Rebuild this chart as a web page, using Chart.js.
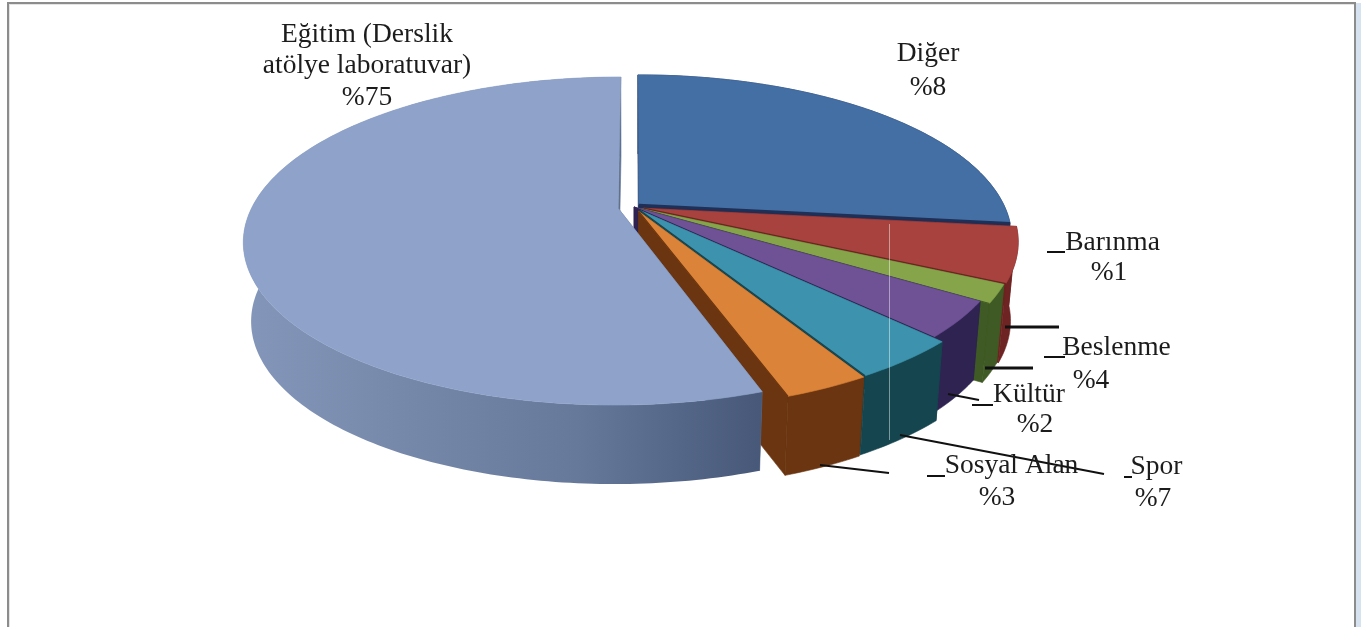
<!DOCTYPE html>
<html><head><meta charset="utf-8">
<style>html,body{margin:0;padding:0;background:#fff;overflow:hidden}
#wrap{position:relative;width:1370px;height:627px}
#frame{position:absolute;left:7px;top:2px;width:1345px;height:640px;border:2px solid #8c8c8c;box-shadow:inset 1px 1px 0 #e4e4e4}
#strip{position:absolute;left:1356px;top:3px;width:5px;height:624px;background:#d6e2f0}
canvas{position:absolute;left:0;top:0}
</style>
<script src="https://cdn.jsdelivr.net/npm/chart.js@4"></script></head>
<body><div id="wrap"><div id="frame"></div><div id="strip"></div><canvas id="c" width="1370" height="627"></canvas></div>
<script>
const categories=["Diğer","Barınma","Beslenme","Kültür","Spor","Sosyal Alan","Eğitim"];
const sliceShares=[26.8,5.4,1.8,3.6,4.0,3.1,55.3];
const labelPercents=["%8","%1","%4","%2","%7","%3","%75"];

const topColors=["#436FA4","#A8423F","#86A44A","#6F5196","#3D93AE","#DB8338","#8FA3CA"];
const wallColors=["#1f2f55","#6e2422","#3f5a24","#2f2352","#15454f","#6a3510","#5f7290"];
const explode=[0.018,0.028,0.024,0.0,0.027,0.03,0.045];

const PIE={cx:634,cy:207,rx:366,ry:157,k:0.2,depth:79,shrink:0.98};
const project=(u,v,low)=>{
  const w=1-PIE.k*v; let X=PIE.rx*u/w, Y=PIE.ry*v/w;
  if(low){X*=PIE.shrink;Y+=PIE.depth;}
  return [PIE.cx+X,PIE.cy+Y];
};
const poly=(ctx,pts,fill)=>{
  ctx.beginPath();pts.forEach((p,i)=>i?ctx.lineTo(p[0],p[1]):ctx.moveTo(p[0],p[1]));
  ctx.closePath();ctx.fillStyle=fill;ctx.fill();
  ctx.lineWidth=0.6;ctx.strokeStyle=typeof fill==='string'?fill:'transparent';ctx.stroke();
};

const pie3d={id:'pie3d',
  beforeDatasetDraw(chart,args){
    const ctx=chart.ctx, arcs=chart.getDatasetMeta(0).data;
    ctx.save();ctx.filter='blur(0.6px)';
    arcs.forEach((el,i)=>{
      const o=(el.options.offset||0)/el.outerRadius, s=el.startAngle, e=el.endAngle, m=(s+e)/2;
      const ou=Math.cos(m)*o, ov=Math.sin(m)*o;
      const n=Math.max(4,Math.ceil((e-s)*60));
      const rim=[];for(let j=0;j<=n;j++){const a=s+(e-s)*j/n;rim.push([ou+Math.cos(a),ov+Math.sin(a)]);}
      const top=rim.map(p=>project(p[0],p[1],false)), low=rim.map(p=>project(p[0],p[1],true));
      const aT=project(ou,ov,false), aL=project(ou,ov,true);
      const wall=el.options.borderColor;
      let wallFill=wall;
      if(i===arcs.length-1){
        const g=ctx.createLinearGradient(240,0,760,0);
        g.addColorStop(0,'#8497ba');g.addColorStop(0.3,'#7789ab');g.addColorStop(0.65,'#66799a');g.addColorStop(1,'#475879');
        wallFill=g;
      }
      poly(ctx,[aT,top[0],low[0],aL],wall);
      poly(ctx,[aT,top[n],low[n],aL],wall);
      poly(ctx,top.concat(low.slice().reverse()),wallFill);
      poly(ctx,[aT].concat(top),el.options.backgroundColor);
      if(i<arcs.length-1){
        ctx.beginPath();ctx.moveTo(aT[0],aT[1]);ctx.lineTo(top[n][0],top[n][1]);
        ctx.strokeStyle=wall;ctx.lineWidth=i===0?2.6:1.2;ctx.stroke();
      }
    });
    ctx.restore();
    return false;
  },
  afterDraw(chart){
    const ctx=chart.ctx;
    ctx.save();
    ctx.strokeStyle='rgba(255,255,255,0.45)';ctx.lineWidth=1;
    ctx.beginPath();ctx.moveTo(889.5,224);ctx.lineTo(889.5,440);ctx.stroke();
    const leaders=[[1005,327,1059,327,3],[985,368,1033,368,3],[948,394,979,400,2],[900,435,1104,474,2],[820,465,889,473,2],
      [1047,252,1065,252,2],[1044,357,1065,357,2],[972,405,993,405,2],[927,476,945,476,2],[1124,477,1132,477,2]];
    ctx.strokeStyle='#111';
    leaders.forEach(l=>{ctx.lineWidth=l[4];ctx.beginPath();ctx.moveTo(l[0],l[1]);ctx.lineTo(l[2],l[3]);ctx.stroke();});
    ctx.fillStyle='#1c1c1c';ctx.font='27.5px "Liberation Serif"';ctx.textBaseline='alphabetic';ctx.textAlign='center';
    const t=(s,x,y)=>ctx.fillText(s,x,y);
    t("Eğitim (Derslik",367,42);t("atölye laboratuvar)",367,73);t(labelPercents[6],367,105);
    t(categories[0],928,61);t(labelPercents[0],928,95);
    t(categories[1],1112.5,250);t(labelPercents[1],1109,280);
    t(categories[2],1116.5,355);t(labelPercents[2],1091,388);
    t(categories[3],1029,402);t(labelPercents[3],1035,432);
    t(categories[5],1011.5,473);t(labelPercents[5],997,505);
    t(categories[4],1156.5,474);t(labelPercents[4],1153,506);
    ctx.restore();
  }
};
new Chart(document.getElementById('c'),{
  type:'pie',
  data:{labels:categories,datasets:[{data:sliceShares,backgroundColor:topColors,borderColor:wallColors,borderWidth:0,
    offset:explode.map(f=>f*300)}]},
  options:{responsive:false,animation:false,events:[],plugins:{legend:{display:false},tooltip:{enabled:false}}},
  plugins:[pie3d]
});
</script></body></html>
